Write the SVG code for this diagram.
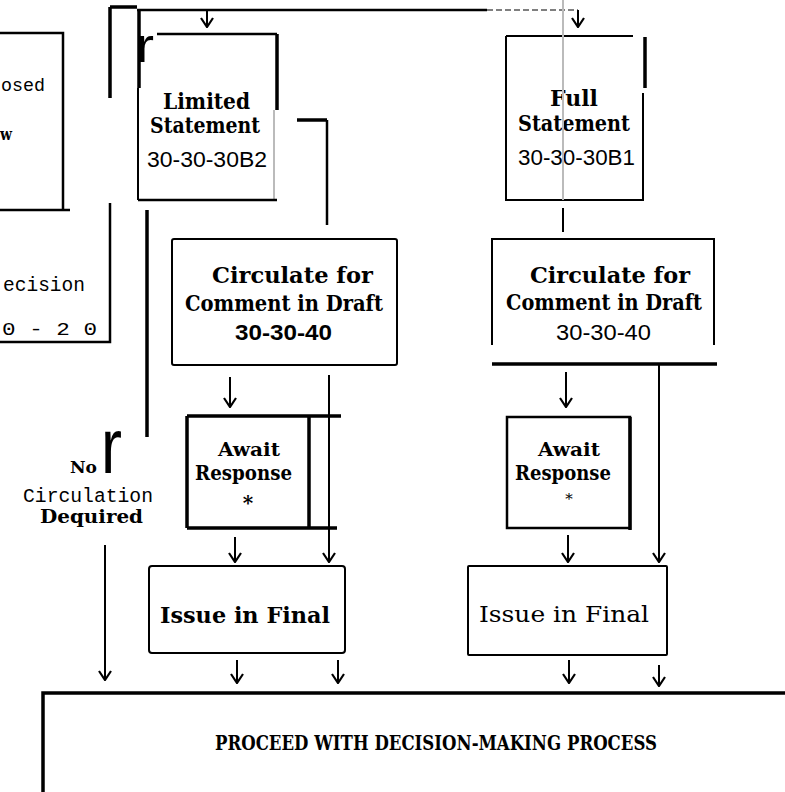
<svg xmlns="http://www.w3.org/2000/svg" width="785" height="792" viewBox="0 0 785 792">
<style>
.tw{font-family:"DejaVu Serif","Liberation Serif",serif;font-weight:bold;fill:#000}
.twn{font-family:"DejaVu Serif","Liberation Serif",serif;font-weight:normal;fill:#000}
.mono{font-family:"Liberation Mono","DejaVu Sans Mono",monospace;fill:#000}
.num{font-family:"Liberation Sans",Arial,sans-serif;fill:#000}
.ln{stroke:#000;fill:none;stroke-width:2.5}
.thk{stroke:#000;fill:none;stroke-width:3.5}
.thin{stroke:#000;fill:none;stroke-width:2}
.gray{stroke:#bbb;fill:none;stroke-width:2}
.arr{stroke:#000;fill:none;stroke-width:2;marker-end:url(#ah)}
</style>
<defs>
<marker id="ah" viewBox="-1 -7 11 14" refX="9" refY="0" markerWidth="11" markerHeight="14" markerUnits="userSpaceOnUse" orient="auto">
<path d="M0,-6 L9,0 L0,6" fill="none" stroke="#000" stroke-width="2.2"/>
</marker>
</defs>
<rect width="785" height="792" fill="#fff"/>

<g id="proposed-box">
<path class="ln" d="M0,33 L63,33 L63,210 L0,210 M63,210 L70,210"/>
<text class="mono" x="1" y="91" font-size="19" textLength="44" lengthAdjust="spacingAndGlyphs">osed</text>
<text class="tw" x="0" y="140" font-size="17" textLength="12" lengthAdjust="spacingAndGlyphs">w</text>
</g>

<g id="decision-box">
<path class="ln" d="M110,203 L110,342 L0,342"/>
<text class="mono" x="3" y="291" font-size="20" textLength="82" lengthAdjust="spacingAndGlyphs">ecision</text>
<text class="mono" x="2" y="335" font-size="19" textLength="95" lengthAdjust="spacingAndGlyphs">0 - 2 0</text>
</g>

<g id="limited-statement">
<path class="ln" d="M157,34 L277,34"/>
<path class="thk" d="M277,34 L277,110"/>
<path class="gray" d="M274,110 L274,200"/>
<path class="ln" d="M138,200 L277,200"/>
<path class="thin" d="M138,88 L138,200"/>
<text class="tw" x="163" y="109" font-size="22" textLength="87" lengthAdjust="spacingAndGlyphs">Limited</text>
<text class="tw" x="150" y="133" font-size="22" textLength="110" lengthAdjust="spacingAndGlyphs">Statement</text>
<text class="num" x="147" y="167" font-size="22" textLength="120" lengthAdjust="spacingAndGlyphs">30-30-30B2</text>
</g>

<g id="full-statement">
<path class="thin" d="M506,36 L633,36 M506,36 L506,200 L644,200"/>
<path class="thk" d="M645,37 L645,88"/>
<path class="thin" d="M643,93 L643,200"/>
<text class="tw" x="550" y="106" font-size="22" textLength="48" lengthAdjust="spacingAndGlyphs">Full</text>
<text class="tw" x="518" y="131" font-size="22" textLength="112" lengthAdjust="spacingAndGlyphs">Statement</text>
<text class="num" x="518" y="165" font-size="22" textLength="117" lengthAdjust="spacingAndGlyphs">30-30-30B1</text>
</g>

<g id="circulate-left">
<rect class="thin" x="172" y="239" width="225" height="126" rx="2"/>
<text class="tw" x="212" y="283" font-size="22" textLength="161" lengthAdjust="spacingAndGlyphs">Circulate for</text>
<text class="tw" x="185" y="311" font-size="22" textLength="198" lengthAdjust="spacingAndGlyphs">Comment in Draft</text>
<text class="num" x="235" y="340" font-size="22" font-weight="bold" textLength="97" lengthAdjust="spacingAndGlyphs">30-30-40</text>
</g>

<g id="circulate-right">
<path class="thin" d="M492,345 L492,239 L714,239 L714,345"/>
<text class="tw" x="530" y="283" font-size="22" textLength="160" lengthAdjust="spacingAndGlyphs">Circulate for</text>
<text class="tw" x="506" y="310" font-size="22" textLength="196" lengthAdjust="spacingAndGlyphs">Comment in Draft</text>
<text class="num" x="556" y="340" font-size="22" textLength="95" lengthAdjust="spacingAndGlyphs">30-30-40</text>
</g>

<g id="await-left">
<path class="thk" d="M187,416 L187,528 M309,416 L309,528"/>
<text class="tw" x="218" y="456" font-size="19" textLength="62" lengthAdjust="spacingAndGlyphs">Await</text>
<text class="tw" x="195" y="480" font-size="20" textLength="97" lengthAdjust="spacingAndGlyphs">Response</text>
<text class="tw" x="248" y="510" font-size="20" text-anchor="middle">*</text>
</g>

<g id="await-right">
<rect class="ln" x="507" y="417" width="123" height="111"/>
<path class="thk" d="M630,417 L630,530"/>
<text class="tw" x="538" y="456" font-size="19" textLength="62" lengthAdjust="spacingAndGlyphs">Await</text>
<text class="tw" x="515" y="480" font-size="20" textLength="96" lengthAdjust="spacingAndGlyphs">Response</text>
<text class="twn" x="569" y="504" font-size="15" text-anchor="middle">*</text>
</g>

<g id="issue-left">
<rect class="thin" x="149" y="566" width="196" height="87" rx="3"/>
<text class="tw" x="160" y="623" font-size="23" textLength="170" lengthAdjust="spacingAndGlyphs">Issue in Final</text>
</g>

<g id="issue-right">
<rect class="thin" x="468" y="566" width="199" height="89" rx="1"/>
<text class="twn" x="479" y="622" font-size="22" textLength="170" lengthAdjust="spacingAndGlyphs">Issue in Final</text>
</g>

<g id="proceed">
<path class="thk" d="M43,792 L43,693 L785,693"/>
<text class="tw" x="215" y="750" font-size="20" textLength="442" lengthAdjust="spacingAndGlyphs">PROCEED WITH DECISION-MAKING PROCESS</text>
</g>

<g id="no-circulation-label">
<text class="tw" x="70" y="473" font-size="16" textLength="27" lengthAdjust="spacingAndGlyphs">No</text>
<text class="num" x="101" y="473" font-size="77" textLength="21" lengthAdjust="spacingAndGlyphs">r</text>
<text class="mono" x="23" y="502" font-size="20" textLength="130" lengthAdjust="spacingAndGlyphs">Circulation</text>
<text class="tw" x="40" y="523" font-size="18" textLength="103" lengthAdjust="spacingAndGlyphs">Dequired</text>
</g>

<g id="connectors">
<path class="thk" d="M110,7 L110,98 M110,7 L137,7"/>
<path class="ln" d="M137,10 L487,10" stroke-width="3"/>
<path d="M487,10 L578,10" stroke="#555" stroke-width="1.5" stroke-dasharray="6,3" fill="none"/>
<path class="arr" d="M207,11 L207,27"/>
<path class="arr" d="M578,10 L578,27"/>
<path class="thk" d="M139,10 L139,88"/>
<text class="num" x="136" y="62" font-size="48" textLength="18" lengthAdjust="spacingAndGlyphs">r</text>
<path class="thk" d="M297,120 L327,120"/>
<path class="ln" d="M327,120 L327,225"/>
<path class="thk" d="M147,210 L147,437"/>
<path class="gray" d="M563,0 L563,200"/>
<path class="thin" d="M563,208 L563,232"/>
<path class="arr" d="M230,377 L230,407"/>
<path class="arr" d="M566,372 L566,407"/>
<path class="thk" d="M492,364 L717,364"/>
<path class="arr" d="M659,364 L659,562" stroke-width="2.5"/>
<path class="thk" d="M187,416 L341,416 M187,528 L337,528"/>
<path class="arr" d="M329,375 L329,562" stroke-width="3"/>
<path class="arr" d="M235,537 L235,562"/>
<path class="arr" d="M568,535 L568,562"/>
<path class="arr" d="M105,545 L105,680"/>
<path class="arr" d="M237,660 L237,683"/>
<path class="arr" d="M338,660 L338,683"/>
<path class="arr" d="M569,660 L569,683"/>
<path class="arr" d="M659,665 L659,686"/>
</g>
</svg>
